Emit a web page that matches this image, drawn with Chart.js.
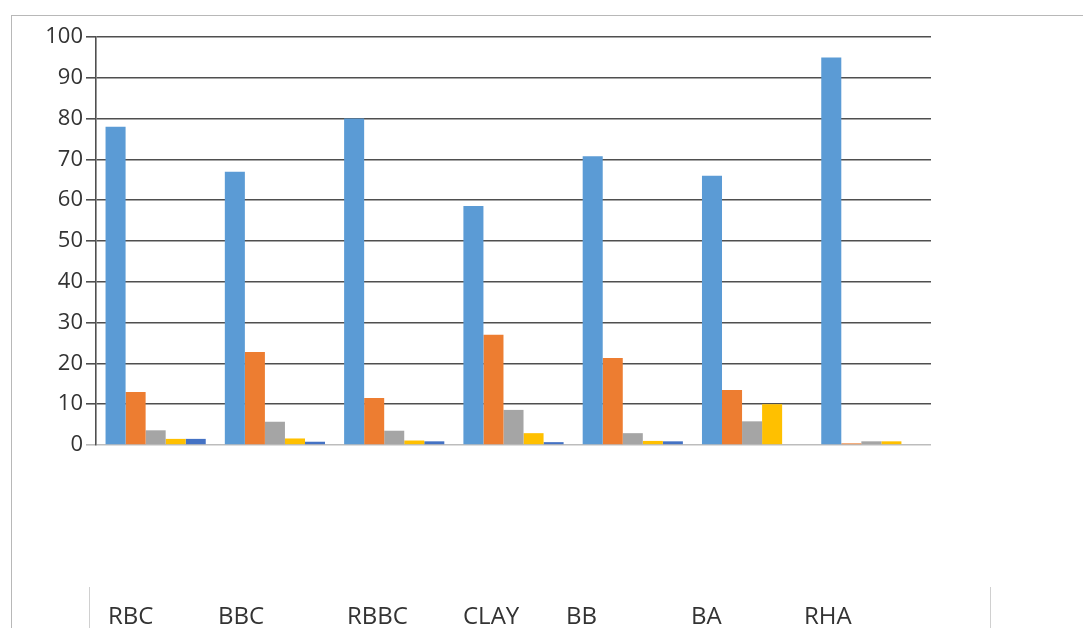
<!DOCTYPE html>
<html>
<head>
<meta charset="utf-8">
<script src="https://cdn.jsdelivr.net/npm/chart.js@4/dist/chart.umd.min.js"></script>
<style>
  html, body { margin: 0; padding: 0; background: #fff; }
  #wrap { position: relative; width: 1083px; height: 628px; overflow: hidden; font-family: "Open Sans", sans-serif; }
  #frame { position: absolute; left: 11px; top: 15px; right: -2px; bottom: -2px; border-top: 1px solid #b8b8b8; border-left: 1px solid #b8b8b8; }
  .vline { position: absolute; top: 587px; bottom: 0; width: 1px; background: #d0d0d0; }
  .cat { position: absolute; top: 600px; font-size: 24px; line-height: 30px; color: #333; white-space: nowrap; }
  canvas { position: absolute; left: 0; top: 0; }
</style>
</head>
<body>
<div id="wrap">
  <div id="frame"></div>
  <div class="vline" style="left:89px"></div>
  <div class="vline" style="left:990px"></div>
  <canvas id="chart" width="1083" height="628"></canvas>
</div>
<script>
const categories = ['RBC', 'BBC', 'RBBC', 'CLAY', 'BB', 'BA', 'RHA'];
const labelLeft = [108, 218, 347, 463, 566, 691, 804];

const series1 = [78, 67, 80, 58.6, 70.8, 66, 95];
const series2 = [13, 22.8, 11.5, 27, 21.3, 13.5, 0.4];
const series3 = [3.6, 5.7, 3.5, 8.6, 2.9, 5.8, 0.9];
const series4 = [1.5, 1.6, 1.1, 2.9, 1, 10, 0.9];
const series5 = [1.5, 0.8, 0.9, 0.7, 0.9, 0, 0];

const yTicks = [0, 10, 20, 30, 40, 50, 60, 70, 80, 90, 100];
const colors = ['#5b9bd5', '#ed7d31', '#a5a5a5', '#ffc000', '#4472c4'];

// category names sit in a row under the chart
const wrap = document.getElementById('wrap');
categories.forEach((name, i) => {
  const span = document.createElement('span');
  span.className = 'cat';
  span.style.left = labelLeft[i] + 'px';
  span.textContent = name;
  wrap.appendChild(span);
});

const datasets = [series1, series2, series3, series4, series5].map((values, i) => ({
  label: 'Series ' + (i + 1),
  data: values,
  backgroundColor: colors[i],
  categoryPercentage: 0.84,
  barPercentage: 1
}));

new Chart(document.getElementById('chart').getContext('2d'), {
  type: 'bar',
  data: { labels: categories, datasets: datasets },
  options: {
    responsive: false,
    animation: false,
    devicePixelRatio: 1,
    layout: { padding: { top: 37, right: 152, bottom: 183, left: 0 } },
    plugins: { legend: { display: false }, tooltip: { enabled: false } },
    scales: {
      x: { display: false },
      y: {
        min: 0,
        max: 100,
        afterFit: (scale) => { scale.width = 96; },
        afterBuildTicks: (scale) => { scale.ticks = yTicks.map(v => ({ value: v })); },
        ticks: {
          padding: 3,
          color: '#333',
          font: { family: 'Open Sans', size: 22 }
        },
        grid: {
          tickLength: 10,
          lineWidth: 1.6,
          color: (ctx) => ctx.tick && ctx.tick.value === 0 ? '#bdbdbd' : '#4f4f4f'
        },
        border: { display: true, color: '#4f4f4f', width: 1.6 }
      }
    }
  }
});
</script>
</body>
</html>
